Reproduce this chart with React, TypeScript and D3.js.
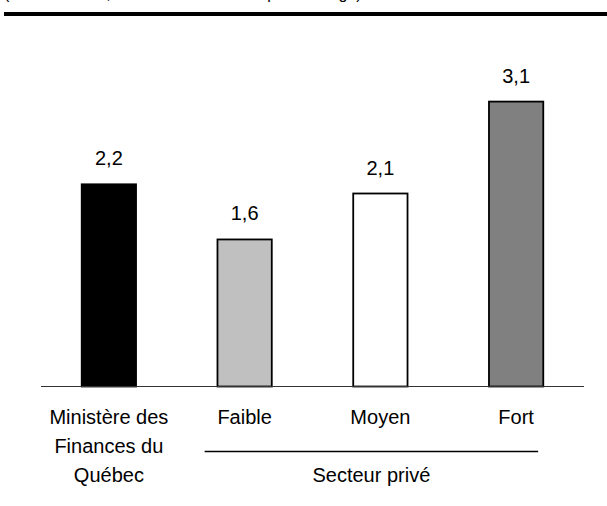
import React from 'react';
import * as d3 from 'd3';

// prévisions de croissance (en pourcentage)
const categories = ['Ministère', 'Faible', 'Moyen', 'Fort'];
const values = [2.2, 1.6, 2.1, 3.1];
const fills = ['#000000', '#c0c0c0', '#ffffff', '#808080'];
const labelLines = [['Ministère des', 'Finances du', 'Québec'], ['Faible'], ['Moyen'], ['Fort']];
const groupLabel = 'Secteur privé';
const title = '(PIB réel 2010, variation annuelle en pourcentage)';

const W = 607;
const H = 506;
const font = '"Liberation Sans", Arial, sans-serif';
const fmt = (v: number) => d3.format('.1f')(v).replace('.', ',');

const App = () => {
  const x = d3.scaleBand().domain(categories).range([41, 584]).paddingInner(0.6).paddingOuter(0.3);
  const y = d3.scaleLinear().domain([0, 4.2]).range([386.5, 0.5]);
  const base = y(0);

  const cx = (c: string) => (x(c) ?? 0) + x.bandwidth() / 2;
  const groupStart = cx('Faible') - 40;
  const groupEnd = cx('Fort') + 22;

  return (
    <div style={{ position: 'fixed', left: 0, top: 0 }}>
      <svg width={W} height={H} style={{ display: 'block', background: '#fff' }}>
        {/* titre coupé en haut, seules les jambages restent visibles */}
        <text x={4} y={-1.5} fontFamily={font} fontSize={16} fill="#000">{title}</text>
        <rect x={4} y={12} width={W - 4} height={4} fill="#000" />

        {categories.map((c, i) => (
          <g key={c}>
            <rect
              x={x(c)}
              y={y(values[i])}
              width={x.bandwidth()}
              height={base - y(values[i])}
              fill={fills[i]}
              stroke="#000"
              strokeWidth={1.8}
            />
            <text x={cx(c)} y={y(values[i]) - 19} textAnchor="middle" fontFamily={font} fontSize={20} fill="#000">
              {fmt(values[i])}
            </text>
            {labelLines[i].map((t, j) => (
              <text key={j} x={cx(c)} y={424 + j * 29} textAnchor="middle" fontFamily={font} fontSize={20} fill="#000">
                {t}
              </text>
            ))}
          </g>
        ))}

        <line x1={41} x2={584} y1={base} y2={base} stroke="#333" strokeWidth={1.2} />

        <line x1={groupStart} x2={groupEnd} y1={451.5} y2={451.5} stroke="#000" strokeWidth={1.5} />
        <text x={(groupStart + groupEnd) / 2} y={482} textAnchor="middle" fontFamily={font} fontSize={20} fill="#000">
          {groupLabel}
        </text>
      </svg>
    </div>
  );
};

export default App;
